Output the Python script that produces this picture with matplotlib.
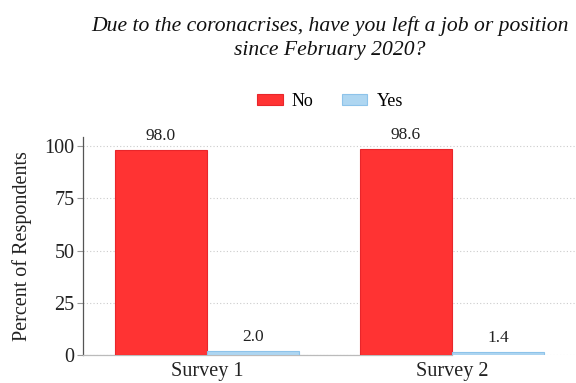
import matplotlib
matplotlib.use("Agg")
import matplotlib.pyplot as plt
import numpy as np

categories = ["Survey 1", "Survey 2"]
no_vals = [98.0, 98.6]
yes_vals = [2.0, 1.4]
yticks = [0, 25, 50, 75, 100]

plt.rcParams['font.family'] = ['Liberation Serif', 'DejaVu Serif']

fig = plt.figure(figsize=(5.76, 3.83), dpi=100)
ax = fig.add_axes([0.144, 0.073, 0.856, 0.569])

x = np.arange(len(categories))
w = 0.375
b1 = ax.bar(x - w/2, no_vals, w, color='#FF3333', edgecolor='#E8262B', linewidth=0.8, label='No', zorder=3)
b2 = ax.bar(x + w/2, yes_vals, w, color='#AED6F1', edgecolor='#8DC3EA', linewidth=0.8, label='Yes', zorder=3)

for bars, vals in ((b1, no_vals), (b2, yes_vals)):
    for r, v in zip(bars, vals):
        ax.text(r.get_x() + r.get_width()/2, v + 3.0, f"{v:.1f}", ha='center', va='bottom',
                fontsize=12.5, color='#222222')

ax.set_xlim(-0.506, 1.506)
ax.set_ylim(0, 104.3)
ax.set_yticks(yticks)
ax.set_yticklabels([str(t) for t in yticks], fontsize=14.5, color='#222222')
ax.set_xticks(x)
ax.set_xticklabels(categories, fontsize=14.5, color='#222222')
ax.tick_params(axis='x', length=0, pad=5)
ax.tick_params(axis='y', length=4, width=0.8, color='#999999', pad=2)
ax.set_ylabel("Percent of Respondents", fontsize=14.5, color='#222222', labelpad=9)

ax.yaxis.grid(True, linestyle=(0, (1, 2)), color='#CCCCCC', linewidth=0.8, zorder=0)
for s in ['top', 'right']:
    ax.spines[s].set_visible(False)
ax.spines['left'].set_color('#555555')
ax.spines['left'].set_linewidth(0.9)
ax.spines['bottom'].set_color('#BBBBBB')
ax.spines['bottom'].set_linewidth(0.9)
ax.spines['bottom'].set_bounds(-0.506, 1.0)

fig.text(0.573, 0.900, "Due to the coronacrises, have you left a job or position\nsince February 2020?",
         ha='center', va='center', fontsize=15.6, style='italic', color='#111111', linespacing=1.35)

leg = fig.legend(handles=[b1, b2], labels=['No', 'Yes'], loc='center', bbox_to_anchor=(0.573, 0.735),
                 ncol=2, frameon=False, fontsize=13, handlelength=1.4, handleheight=0.6,
                 columnspacing=1.6, handletextpad=0.5)

fig.savefig("out.png", dpi=100)
